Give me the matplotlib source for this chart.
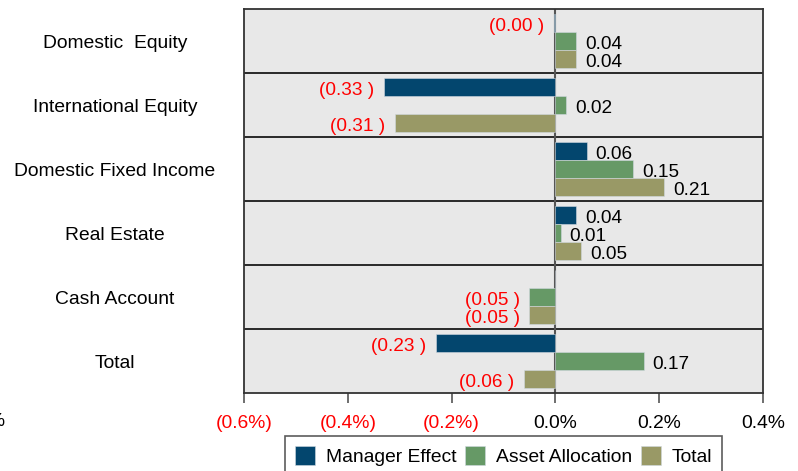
import matplotlib
matplotlib.use("Agg")
import matplotlib.pyplot as plt
import numpy as np
from matplotlib.patches import Patch

categories = ["Domestic  Equity", "International Equity", "Domestic Fixed Income",
              "Real Estate", "Cash Account", "Total"]
series_names = ["Manager Effect", "Asset Allocation", "Total"]
manager = [-0.003, -0.33, 0.06, 0.04, 0.0, -0.23]
asset = [0.04, 0.02, 0.15, 0.01, -0.05, 0.17]
total = [0.04, -0.31, 0.21, 0.05, -0.05, -0.06]
xticks = [-0.6, -0.4, -0.2, 0.0, 0.2, 0.4]
xticklabels = ["(0.6%)", "(0.4%)", "(0.2%)", "0.0%", "0.2%", "0.4%"]

colors = ["#03466e", "#669966", "#999966"]
FS = 13.9
DFS = 13.7

plt.rcParams['font.family'] = ['Liberation Sans', 'DejaVu Sans']

fig = plt.figure(figsize=(7.98, 4.71), dpi=100)
ax = fig.add_axes([244/798, 1-393/471, (763-244)/798, (393-9)/471])
ax.set_facecolor("#e8e8e8")

y = np.arange(len(categories))
h = 0.28
offsets = [-h, 0, h]
for vals, off, col in zip([manager, asset, total], offsets, colors):
    ax.barh(y + off, vals, height=h, color=col, edgecolor="#d0d8e0", linewidth=0.4, zorder=3)
    for yi, v in zip(y, vals):
        if v == 0:
            continue
        if v < 0:
            ax.annotate(f"({abs(v):.2f} )", (v, yi + off), xytext=(-7, -2.5),
                        textcoords="offset points", ha="right", va="center",
                        color="red", fontsize=DFS, zorder=4)
        else:
            ax.annotate(f"{v:.2f}", (v, yi + off), xytext=(6.5, -2.5),
                        textcoords="offset points", ha="left", va="center",
                        color="black", fontsize=DFS, zorder=4)

ax.set_xlim(-0.6, 0.4)
ax.set_ylim(len(categories) - 0.5, -0.5)
for b in np.arange(0.5, len(categories) - 0.5, 1.0):
    ax.axhline(b, color="#1a1a1a", lw=1.3, zorder=2)
ax.axvline(0, color="#555555", lw=1.5, zorder=2)

ax.set_xticks(xticks)
ax.set_xticklabels(xticklabels, fontsize=FS)
for lbl, v in zip(ax.get_xticklabels(), xticks):
    lbl.set_color("red" if v < 0 else "black")
ax.tick_params(axis="x", direction="out", length=7, width=1.2, color="#555555", pad=8.5)

ax.set_yticks(y)
ax.set_yticklabels(categories, fontsize=FS, ha="center")
ax.tick_params(axis="y", length=0, pad=129 * 72 / 100)

for s in ax.spines.values():
    s.set_color("#333333")
    s.set_linewidth(1.3)

fig.text(4/798, 1-421/471, "%", ha="right", va="center", fontsize=FS, color="black")

handles = [Patch(facecolor=c, edgecolor="#d0d8e0", linewidth=0.4) for c in colors]
leg = ax.legend(handles, series_names, loc="upper center", bbox_to_anchor=(0.5, -0.112),
                ncol=3, fontsize=FS, frameon=True, fancybox=False, borderaxespad=0,
                handlelength=1.05, handleheight=1.2, handletextpad=0.55, columnspacing=0.45,
                borderpad=0.5)
leg.get_frame().set_edgecolor("#333333")
leg.get_frame().set_linewidth(1.2)

fig.savefig("out.png", dpi=100)
